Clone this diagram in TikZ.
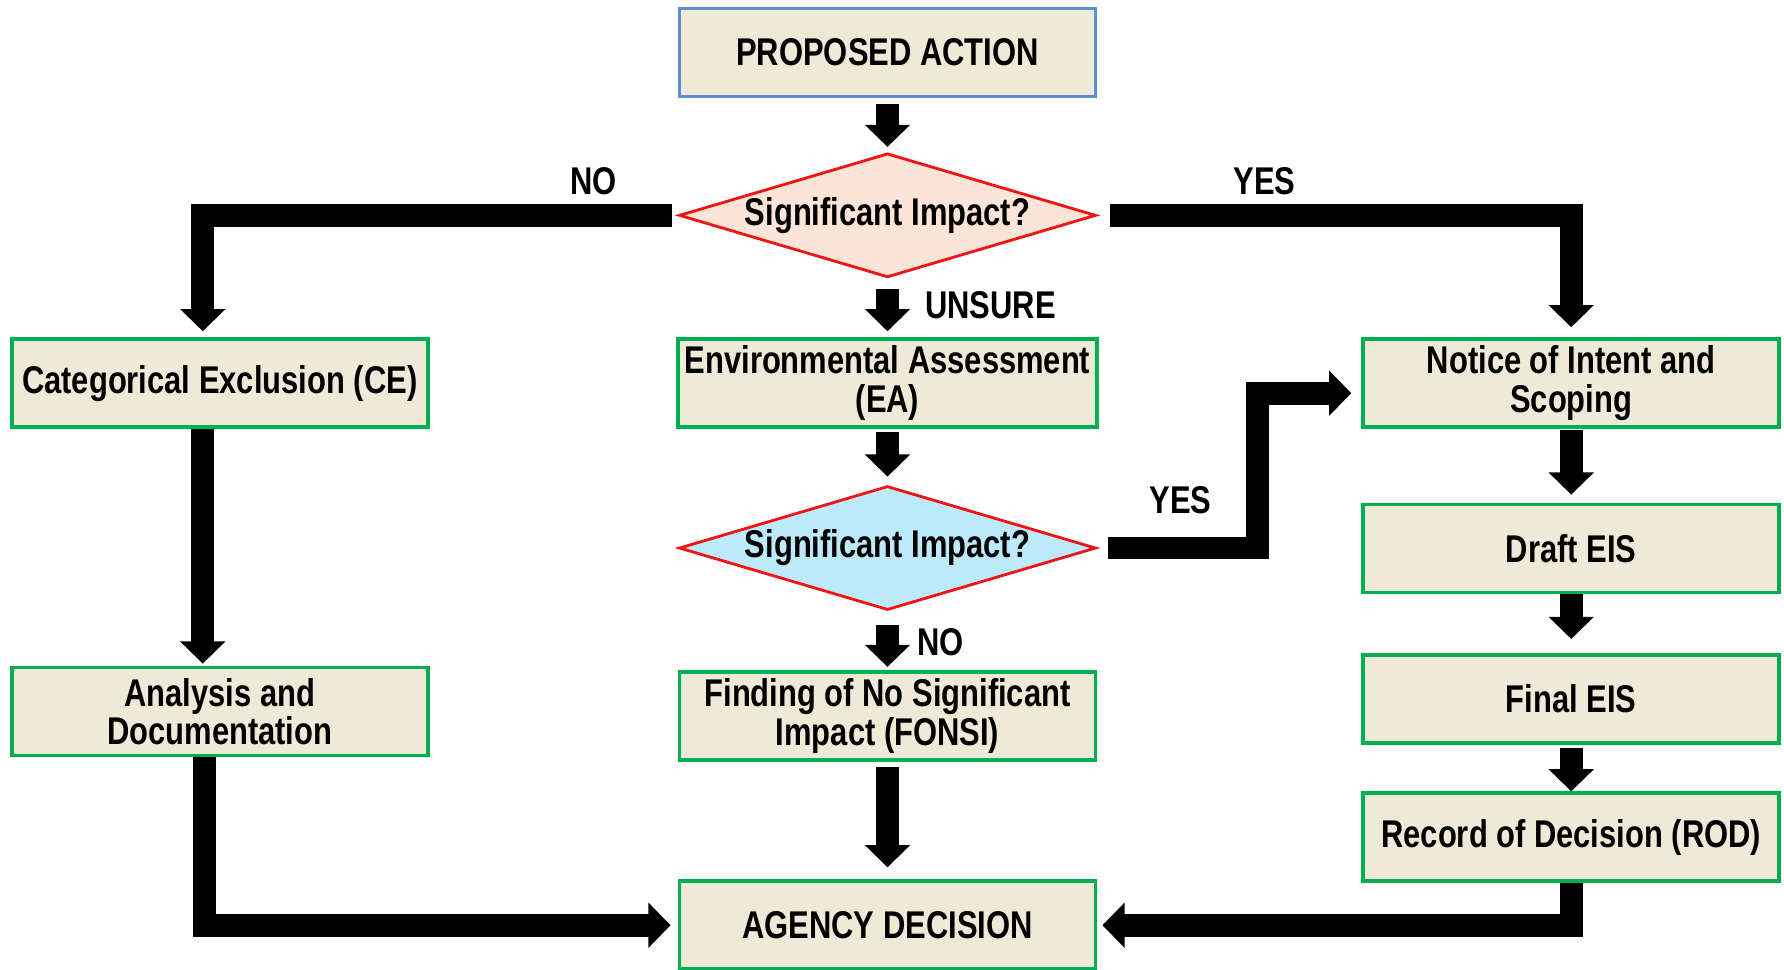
\documentclass[tikz,border=0pt]{standalone}
\usepackage{fontspec}
\newfontfamily\narrowsans{Liberation Sans}[FakeStretch=0.8]
\usepackage{tikz}
\usetikzlibrary{arrows.meta,positioning,calc,shapes.geometric}
\definecolor{parchment}{RGB}{238,234,215}
\definecolor{leaf}{RGB}{0,176,80}
\definecolor{cornflower}{RGB}{91,142,214}
\definecolor{alarm}{RGB}{240,20,20}
\definecolor{peach}{RGB}{252,228,214}
\definecolor{sky}{RGB}{189,234,250}
\tikzset{
  stage/.style={draw=leaf,line width=1.1pt,fill=parchment,inner xsep=2pt,inner ysep=0.5pt,align=center,minimum width=41.6mm,minimum height=8.8mm},
  start/.style={stage,draw=cornflower},
  query/.style={diamond,draw=alarm,line width=0.8pt,inner sep=0pt,aspect=3.4,minimum width=41.7mm,minimum height=12.4mm},
  flow/.style={-{Triangle[length=6.3pt,width=12.5pt]},line width=6.5pt,black},
  tag/.style={inner sep=1pt},
}
\begin{document}
\begin{tikzpicture}[every node/.style={font=\narrowsans\bfseries\fontsize{11}{11}\selectfont}]
\useasboundingbox (0,0) rectangle (17.84,-9.69);
\node[start] (pa) at (8.875,-0.525) {PROPOSED ACTION};
\node[query, fill=peach, below=5.35mm of pa] (sig1) {Significant Impact?};
\node[stage, below=5.85mm of sig1] (ea) {Environmental Assessment\\(EA)};
\node[query, fill=sky, below=5.55mm of ea] (sig2) {Significant Impact?};
\node[stage, below=5.85mm of sig2] (fonsi) {Finding of No Significant\\Impact (FONSI)};
\node[stage, below=11.75mm of fonsi] (agency) {AGENCY DECISION};
\node[stage, left=24.6mm of ea] (ce) {Categorical Exclusion (CE)};
\node[stage, below=23.65mm of ce] (ana) {Analysis and\\Documentation};
\node[stage, right=26.2mm of ea] (noi) {Notice of Intent and\\Scoping};
\node[stage, below=7.35mm of noi] (draft) {Draft EIS};
\node[stage, below=5.85mm of draft] (final) {Final EIS};
\node[stage, below=4.65mm of final] (rod) {Record of Decision (ROD)};
% answers
\node[tag] (no1) at ($(sig1.west)+(-0.84,0.34)$) {NO};
\node[tag] (yes1) at ($(sig1.east)+(1.67,0.34)$) {YES};
\node[tag] (unsure) at ($(sig1.south)+(1.03,-0.26)$) {UNSURE};
\node[tag] (yes2) at ($(sig2.east)+(0.83,0.48)$) {YES};
\node[tag] (no2) at ($(sig2.south)+(0.53,-0.31)$) {NO};
% centre column
\draw[flow] ([yshift=-0.6mm]pa.south) -- ([yshift=0.5mm]sig1.north);
\draw[flow] ([yshift=-1mm]sig1.south) -- ([yshift=0.6mm]ea.north);
\draw[flow] ([yshift=-0.3mm]ea.south) -- ([yshift=0.8mm]sig2.north);
\draw[flow] ([yshift=-1.4mm]sig2.south) -- ([yshift=0.3mm]fonsi.north);
\draw[flow] ([yshift=-0.5mm]fonsi.south) -- ([yshift=1.2mm]agency.north);
% left column
\draw[flow] ([xshift=-0.6mm]sig1.west) -| ([xshift=-1.7mm,yshift=0.6mm]ce.north);
\draw[flow] ([xshift=-1.7mm]ce.south) -- ([xshift=-1.7mm,yshift=0.2mm]ana.north);
\draw[flow] ([xshift=-1.5mm]ana.south) |- ([xshift=-0.7mm]agency.west);
% right column
\draw[flow] ([xshift=1.3mm]sig1.east) -| ([yshift=1mm]noi.north);
\draw[flow] ([xshift=1.1mm]sig2.east) -- ++(1.49,0) |- ([xshift=-1mm,yshift=-1mm]noi.west);
\draw[flow] ([yshift=-0.1mm]noi.south) -- ([yshift=0.8mm]draft.north);
\draw[flow] (draft.south) -- ([yshift=1.4mm]final.north);
\draw[flow] ([yshift=-0.3mm]final.south) -- (rod.north);
\draw[flow] (rod.south) |- ([xshift=0.5mm]agency.east);
\end{tikzpicture}
\end{document}
